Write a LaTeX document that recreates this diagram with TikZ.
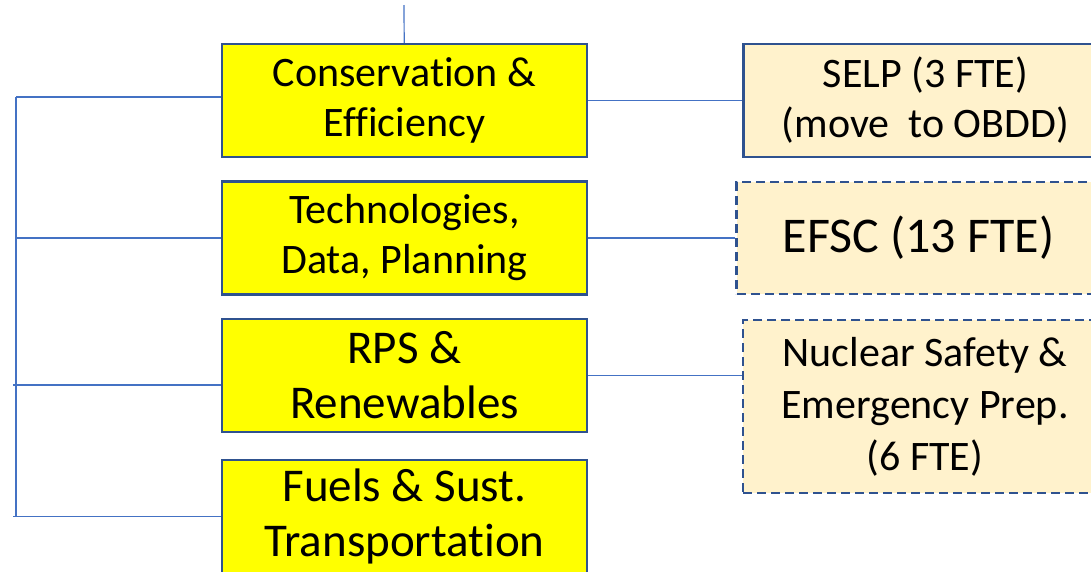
\documentclass[tikz,border=0pt]{standalone}
\usepackage{fontspec}
\setmainfont{Carlito}[Ligatures=NoCommon]
\usetikzlibrary{positioning}
\definecolor{boxline}{HTML}{2F528F}
\definecolor{linkblue}{HTML}{4472C4}
\definecolor{unityellow}{HTML}{FFFF00}
\definecolor{progtan}{HTML}{FFF2CC}
\tikzstyle{unit} = [draw=boxline,fill=unityellow,line width=2.5pt,rectangle,minimum width=365pt,minimum height=113pt,inner sep=0pt,align=center,font=\fontsize{42}{50}\selectfont]
\tikzstyle{bigunit} = [unit,font=\fontsize{47}{55}\selectfont]
\tikzstyle{program} = [draw=boxline,fill=progtan,line width=2.5pt,rectangle,minimum width=364pt,minimum height=113pt,inner sep=0pt,align=center,font=\fontsize{42}{50}\selectfont]
\tikzstyle{moved} = [program,dash pattern=on 9pt off 5pt]
\tikzstyle{link} = [draw=linkblue,line width=1.2pt]

\begin{document}
\begin{tikzpicture}[x=1pt,y=-1pt,node distance=138pt]
  \useasboundingbox (0,0) rectangle (1091,571);
  \clip (0,0) rectangle (1091,571);

  %divisions
  \node[unit] (cons) at (404.5,100.5) {Conservation \&\\Efficiency};
  \node[unit,below of=cons,node distance=137.5pt] (tech) {Technologies,\\Data, Planning};
  \node[bigunit,below of=tech,node distance=137.5pt] (rps) {RPS \&\\Renewables};
  \node[bigunit,below of=rps,node distance=141pt] (fuels) {Fuels \& Sust.\\Transportation};

  %programs
  \node[program,right of=cons,node distance=521pt] (selp) {SELP (3 FTE)\\(move\ \ to OBDD)};
  \node[moved,right of=tech,node distance=514pt,minimum height=112pt,font=\fontsize{50}{60}\selectfont] (efsc) {EFSC (13 FTE)};
  \node[moved,minimum height=173pt,font=\fontsize{42}{52}\selectfont] (nuc) at (925,406.5) {Nuclear Safety \&\\Emergency Prep.\\(6 FTE)};

  %trunk
  \coordinate (top) at (404,5);
  \coordinate (trunk) at (16,97);
  \coordinate (trunkend) at (16,517);
  \draw[link] (top) -- (cons);
  \draw[link] (trunk) -- (trunkend);
  \draw[link] ([yshift=3.5pt]cons.west) -- (trunk);
  \draw[link] (tech.west) -- (tech.west -| trunk);
  \draw[link] ([yshift=-9.5pt]rps.west) -- ([yshift=-9.5pt,xshift=-3pt]rps.west -| trunk);
  \draw[link] (fuels.west) -- ([xshift=-3pt]fuels.west -| trunk);

  %to programs
  \draw[link] (cons.east) -- (cons.east -| selp.west);
  \draw[link] (tech.east) -- (tech.east -| efsc.west);
  \draw[link] (rps.east) -- (rps.east -| nuc.west);

\end{tikzpicture}
\end{document}
